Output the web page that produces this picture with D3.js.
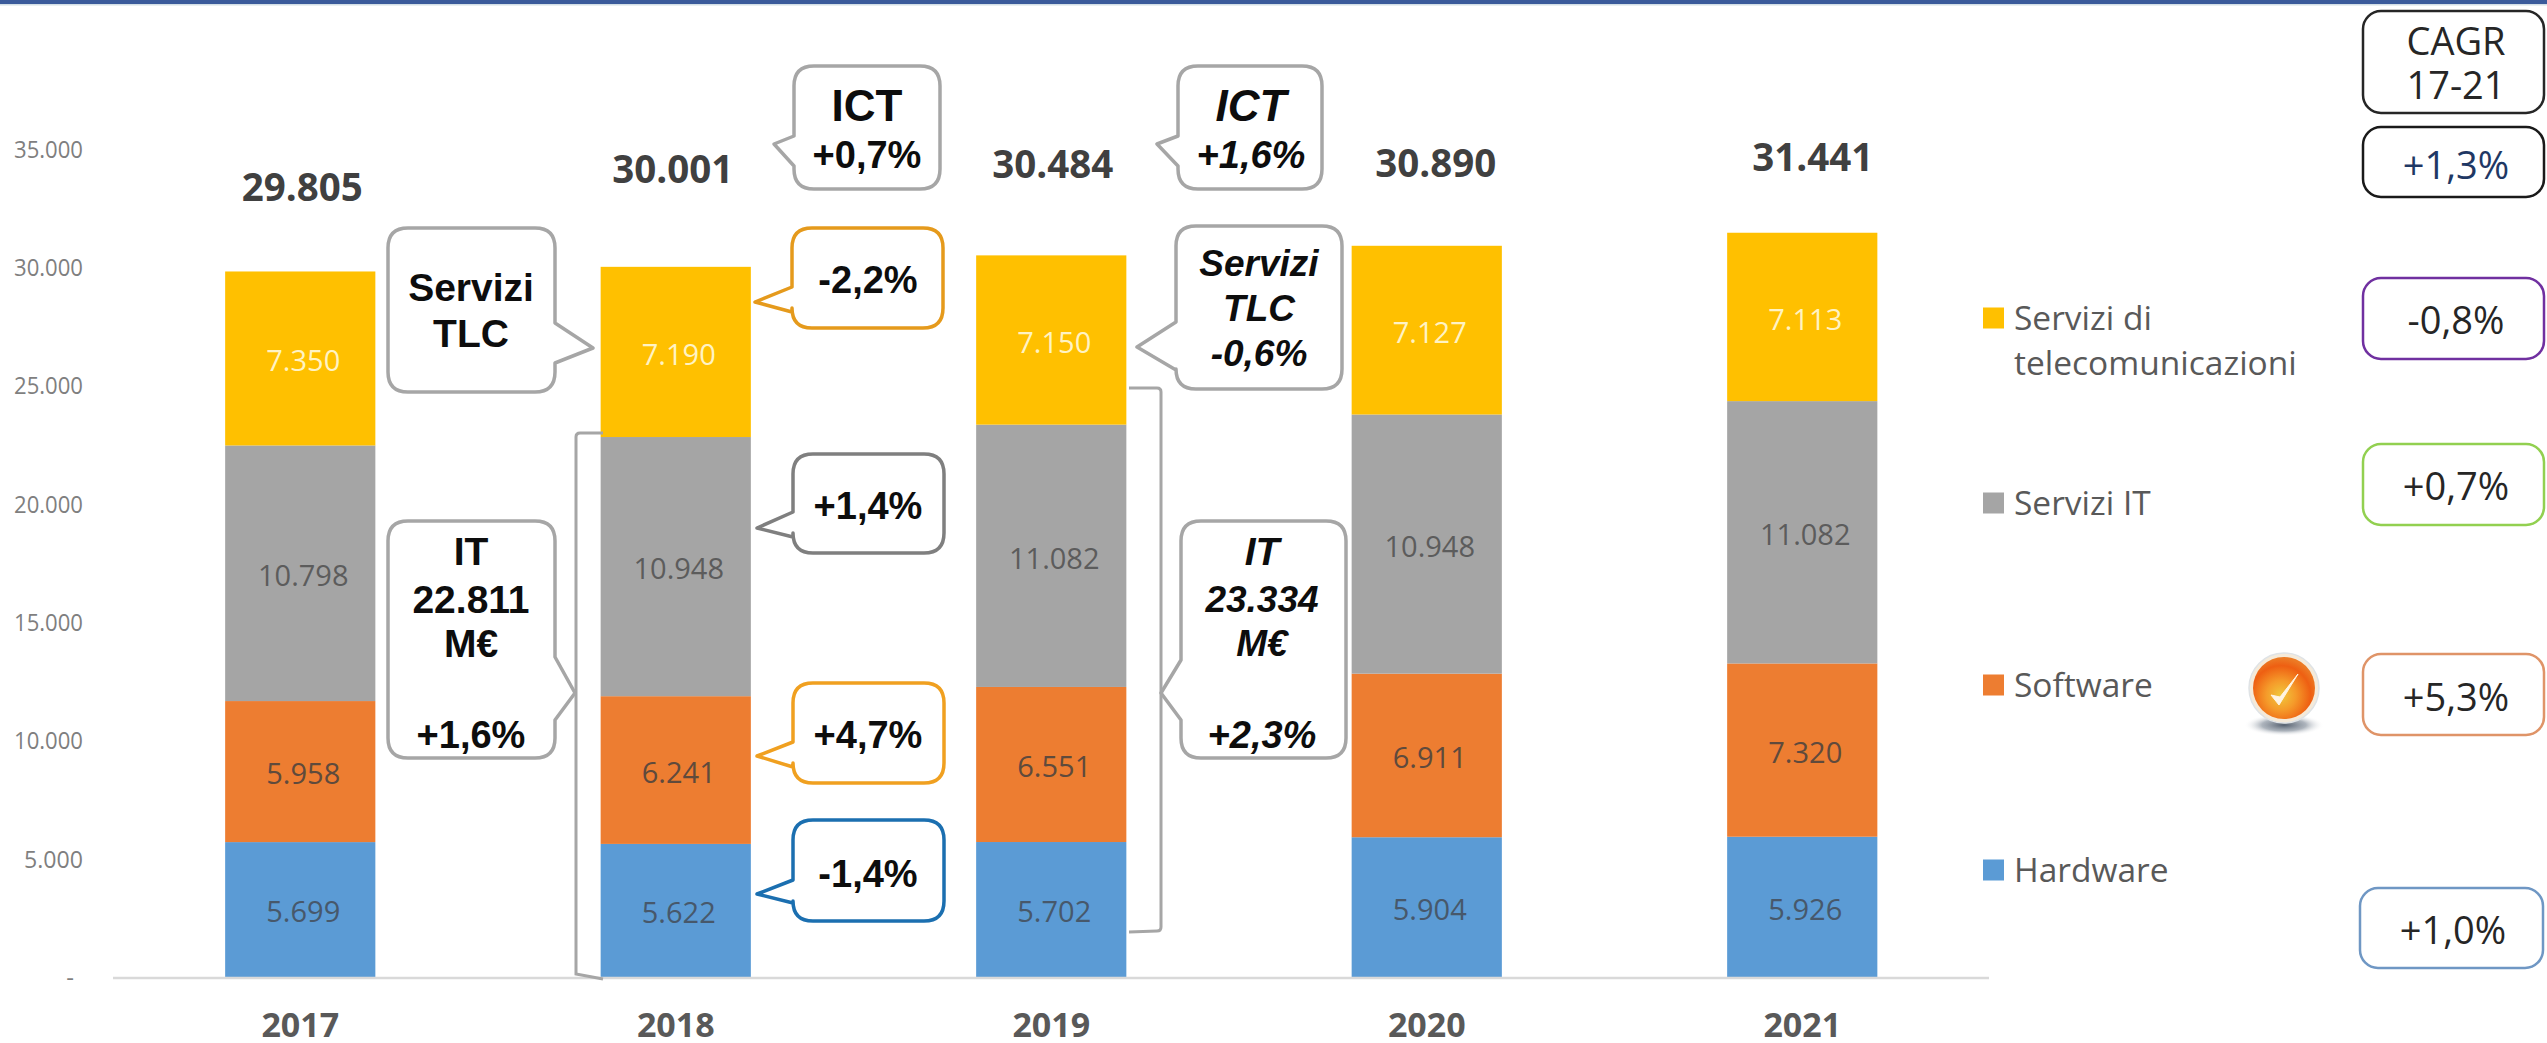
<!DOCTYPE html>
<html><head><meta charset="utf-8">
<script src="https://cdn.jsdelivr.net/npm/d3@7/dist/d3.min.js"></script>
<style>html,body{margin:0;padding:0;background:#fff;overflow:hidden}svg{display:block}</style>
</head><body><div id="chart"></div>
<script>
const years = ["2017","2018","2019","2020","2021"];
const seriesNames = ["Hardware","Software","Servizi IT","Servizi di telecomunicazioni"];
const hardware = [5699,5622,5702,5904,5926];
const software = [5958,6241,6551,6911,7320];
const serviziIT = [10798,10948,11082,10948,11082];
const serviziTLC = [7350,7190,7150,7127,7113];
const totals = [29805,30001,30484,30890,31441];
const yTicks = [0,5000,10000,15000,20000,25000,30000,35000];
const seriesColors = ["#5B9BD5","#ED7D31","#A5A5A5","#FFC000"];
const labelColors = ["#47586b","#5f4a3c","#5c5c5c","#fff3c4"];

const W=2547,H=1043, SANS="'Open Sans',sans-serif", ARIAL="'Liberation Sans',Arial,sans-serif";
const fmt = v => d3.format(",")(v).replace(/,/g,".");
const svg = d3.select("#chart").append("svg").attr("width",W).attr("height",H).attr("viewBox",`0 0 ${W} ${H}`);
const defs = svg.append("defs");

svg.append("rect").attr("width",W).attr("height",4).attr("fill","#3B5B9B");
svg.append("rect").attr("y",4).attr("width",W).attr("height",1.5).attr("fill","#d4dfe6");

const x = d3.scaleBand().domain(years).range([112.5,1990]).paddingInner(0.6).paddingOuter(0.3);
const y = d3.scaleLinear().domain([0,35000]).range([977,148.5]);

// stacked bars
const rows = years.map((yr,i)=>({year:yr,h:hardware[i],s:software[i],i:serviziIT[i],t:serviziTLC[i]}));
const stack = d3.stack().keys(["h","s","i","t"])(rows);
const gBars = svg.append("g");
stack.forEach((layer,k)=>{
  gBars.selectAll(null).data(layer).join("rect")
    .attr("x",d=>x(d.data.year)).attr("width",x.bandwidth())
    .attr("y",d=>y(d[1])).attr("height",d=>y(d[0])-y(d[1]))
    .attr("fill",seriesColors[k]);
  svg.append("g").selectAll(null).data(layer).join("text")
    .attr("x",d=>x(d.data.year)+x.bandwidth()/2+3)
    .attr("y",d=>(y(d[0])+y(d[1]))/2+2.5).attr("dy",".357em")
    .attr("text-anchor","middle").attr("font-family",SANS).attr("font-size",29)
    .attr("fill",labelColors[k]).text(d=>fmt(d[1]-d[0]));
});

// axes
const ax = svg.append("g").attr("transform","translate(83,0)")
  .call(d3.axisLeft(y).tickValues(yTicks).tickSize(0).tickPadding(0).tickFormat(v=>v===0?"-":fmt(v)));
ax.select(".domain").remove();
ax.selectAll("text").attr("font-family",SANS).attr("font-size",24).attr("fill","#7f7f7f")
  .attr("textLength",d=>d===0?null:(d<10000?59:69)).attr("lengthAdjust","spacingAndGlyphs")
  .attr("dy",".357em");
ax.selectAll("text").filter(d=>d===0).attr("x",-9);
svg.append("line").attr("x1",113).attr("x2",1989).attr("y1",978).attr("y2",978).attr("stroke","#D9D9D9").attr("stroke-width",2.5);
const xa = svg.append("g").attr("transform","translate(0,1025)")
  .call(d3.axisBottom(x).tickSize(0).tickPadding(0));
xa.select(".domain").remove();
xa.selectAll("text").attr("font-family",SANS).attr("font-weight",700).attr("font-size",34).attr("fill","#595959").attr("dy",".357em");

// totals
const totalY = [187,169,164,163,157], totalDx=[2,-3,1.5,9,10.5];
svg.append("g").selectAll(null).data(totals).join("text")
  .attr("x",(d,i)=>x(years[i])+x.bandwidth()/2+totalDx[i]).attr("y",(d,i)=>totalY[i]).attr("dy",".357em")
  .attr("text-anchor","middle").attr("font-family",SANS).attr("font-weight",700).attr("font-size",38.5)
  .attr("fill","#404040").text(fmt);

// brackets
const brk = svg.append("g").attr("fill","none").attr("stroke","#A6A6A6").attr("stroke-width",3);
brk.append("path").attr("d","M603,433 L580,433 Q576,433 576,437 L576,974 L603,979");
brk.append("path").attr("d","M1129,388 L1157,388 Q1161,388 1161,392 L1161,927 Q1161,931 1157,931 L1129,932");

// callouts
function callout(b){
  const r=b.r||20,{x0,x1,y0,y1}=b;
  let d=`M${x0+r},${y0} L${x1-r},${y0} Q${x1},${y0} ${x1},${y0+r} `;
  if(b.side==="r") d+=`L${x1},${b.b0} L${b.tip},${b.ty} L${x1},${b.b1} `;
  d+=`L${x1},${y1-r} Q${x1},${y1} ${x1-r},${y1} L${x0+r},${y1} Q${x0},${y1} ${x0},${y1-r} `;
  if(b.side==="l") d+=`L${x0},${b.b1} L${b.tip},${b.ty} L${x0},${b.b0} `;
  d+=`L${x0},${y0+r} Q${x0},${y0} ${x0+r},${y0} Z`;
  return d;
}
const GREY="#A6A6A6";
const callouts=[
 {x0:794,x1:940,y0:66,y1:189,side:"l",tip:774,ty:144,b0:136,b1:166,c:GREY,cx:867,t:[["ICT",105,44],["+0,7%",154,38]]},
 {x0:1178,x1:1322,y0:66,y1:189,side:"l",tip:1157,ty:144,b0:136,b1:166,c:GREY,it:1,cx:1251,t:[["ICT",105,44],["+1,6%",154,38]]},
 {x0:388,x1:555,y0:228,y1:392,side:"r",tip:593,ty:348,b0:323,b1:363,c:GREY,cx:471,t:[["Servizi",287,39],["TLC",333,39]]},
 {x0:792,x1:943,y0:228,y1:328,side:"l",tip:755,ty:302,b0:287,b1:312,c:"#E59A1C",cx:868,t:[["-2,2%",279,38]]},
 {x0:793,x1:944,y0:454,y1:553,side:"l",tip:757,ty:528,b0:512,b1:537,c:"#7F7F7F",cx:868,t:[["+1,4%",505,38]]},
 {x0:388,x1:555,y0:521,y1:758,side:"r",tip:575,ty:693,b0:657,b1:720,c:GREY,cx:471,t:[["IT",551,39],["22.811",599,39],["M€",643,39],["+1,6%",734,38]]},
 {x0:793,x1:944,y0:683,y1:783,side:"l",tip:757,ty:756,b0:742,b1:767,c:"#F0A020",cx:868,t:[["+4,7%",734,38]]},
 {x0:793,x1:944,y0:820,y1:921,side:"l",tip:757,ty:894,b0:880,b1:903,c:"#1B6FB0",cx:868,t:[["-1,4%",873,38]]},
 {x0:1176,x1:1342,y0:226,y1:389,side:"l",tip:1137,ty:347,b0:322,b1:370,c:GREY,it:1,cx:1259,t:[["Servizi",263,37],["TLC",308,37],["-0,6%",353,37]]},
 {x0:1181,x1:1346,y0:521,y1:758,side:"l",tip:1161,ty:693,b0:660,b1:720,c:GREY,it:1,cx:1262,t:[["IT",551,39],["23.334",599,37],["M€",643,37],["+2,3%",734,38]]}
];
const gc=svg.append("g");
callouts.forEach(b=>{
  gc.append("path").attr("d",callout(b)).attr("fill","#fff").attr("stroke",b.c).attr("stroke-width",3.5).attr("stroke-linejoin","round");
  b.t.forEach(([s,cy,fs])=>gc.append("text").attr("x",b.cx).attr("y",cy).attr("dy",".357em").attr("text-anchor","middle")
    .attr("font-family",ARIAL).attr("font-weight",700).attr("font-style",b.it?"italic":"normal").attr("font-size",fs).attr("fill","#0d0d0d").text(s));
});

// legend
const legend=[
 {k:3,cy:318,lines:["Servizi di","telecomunicazioni"]},
 {k:2,cy:503,lines:["Servizi IT"]},
 {k:1,cy:685,lines:["Software"]},
 {k:0,cy:870,lines:["Hardware"]}];
const gl=svg.append("g");
legend.forEach(l=>{
  gl.append("rect").attr("x",1983).attr("y",l.cy-10.5).attr("width",21).attr("height",21).attr("fill",seriesColors[l.k]);
  l.lines.forEach((s,i)=>gl.append("text").attr("x",2014).attr("y",l.cy+i*45).attr("dy",".357em")
    .attr("font-family",SANS).attr("font-size",33.5).attr("fill","#595959").text(s));
});

// CAGR boxes
const cagrBoxes=[
 {x0:2363,x1:2544,y0:11,y1:113,c:"#262626",tc:"#262626",cx:2456,t:[["CAGR",41],["17-21",85]]},
 {x0:2363,x1:2544,y0:127,y1:197,c:"#1a1a1a",tc:"#1F3864",cx:2456,t:[["+1,3%",165]]},
 {x0:2363,x1:2544,y0:278,y1:359,c:"#7030A0",tc:"#262626",cx:2456,t:[["-0,8%",320]]},
 {x0:2363,x1:2544,y0:444,y1:525,c:"#92D050",tc:"#262626",cx:2456,t:[["+0,7%",486]]},
 {x0:2363,x1:2544,y0:654,y1:735,c:"#DF9468",tc:"#262626",cx:2456,t:[["+5,3%",697]]},
 {x0:2360,x1:2543,y0:888,y1:968,c:"#6F97C4",tc:"#262626",cx:2453,t:[["+1,0%",930]]}];
const gb=svg.append("g");
cagrBoxes.forEach(b=>{
  gb.append("rect").attr("x",b.x0).attr("y",b.y0).attr("width",b.x1-b.x0).attr("height",b.y1-b.y0).attr("rx",18)
    .attr("fill","#fff").attr("stroke",b.c).attr("stroke-width",2.5);
  b.t.forEach(([s,cy])=>gb.append("text").attr("x",b.cx).attr("y",cy).attr("dy",".357em").attr("text-anchor","middle")
    .attr("font-family",SANS).attr("font-size",38).attr("fill",b.tc).text(s));
});

// check badge
const gr=defs.append("radialGradient").attr("id","badge").attr("cx","45%").attr("cy","62%").attr("r","60%");
[[0,"#F0C83C"],[.4,"#F59A2A"],[.8,"#EE5F12"],[1,"#EC7A24"]].forEach(([o,c])=>gr.append("stop").attr("offset",o).attr("stop-color",c));
const sh=defs.append("radialGradient").attr("id","shadow");
[[0,"#55606e",1],[.55,"#8a94a0",.7],[1,"#ffffff",0]].forEach(([o,c,a])=>sh.append("stop").attr("offset",o).attr("stop-color",c).attr("stop-opacity",a));
const bd=svg.append("g");
bd.append("ellipse").attr("cx",2284).attr("cy",725).attr("rx",40).attr("ry",11).attr("fill","url(#shadow)");
bd.append("circle").attr("cx",2284).attr("cy",688).attr("r",35).attr("fill","#f5ead9").attr("stroke","#dfe3e6").attr("stroke-width",1.5);
bd.append("circle").attr("cx",2284).attr("cy",688).attr("r",31).attr("fill","url(#badge)");
bd.append("path").attr("d","M2271,695 L2279,705 L2298,674 L2280,697 Z").attr("fill","#fff4e2").attr("stroke","#fff4e2").attr("stroke-width",1).attr("stroke-linejoin","round");
</script></body></html>
